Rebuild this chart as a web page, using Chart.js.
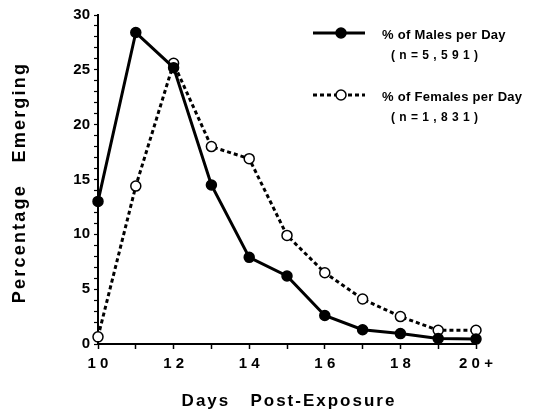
<!DOCTYPE html>
<html>
<head>
<meta charset="utf-8">
<script src="https://cdn.jsdelivr.net/npm/chart.js@4/dist/chart.umd.min.js"></script>
<style>
  html, body { margin: 0; padding: 0; background: #fff; }
  #wrap { width: 535px; height: 413px; }
</style>
</head>
<body>
<div id="wrap"><canvas id="ctx-emerge" width="535" height="413"></canvas></div>
<script>
// days post-exposure (20 = "20+")
const days = [10, 11, 12, 13, 14, 15, 16, 17, 18, 19, 20];
const malesPct = [13.0, 28.4, 25.2, 14.5, 7.9, 6.2, 2.6, 1.3, 0.95, 0.5, 0.45];
const femalesPct = [0.65, 14.4, 25.6, 18.0, 16.9, 9.9, 6.5, 4.1, 2.5, 1.25, 1.25];
const xTickLabels = { 10: '1 0', 12: '1 2', 14: '1 4', 16: '1 6', 18: '1 8', 20: '2 0 +' };
const xTitle = 'Days   Post-Exposure';
const yTitle = 'Percentage   Emerging';
const legendItems = [
    { label: '% of Males per Day', sub: '( n = 5 , 5 9 1 )', dashed: false },
    { label: '% of Females per Day', sub: '( n = 1 , 8 3 1 )', dashed: true }
];

const FONT = '"Liberation Sans", Arial, sans-serif';

// axis titles + legend drawn by hand (letter spaced like the original)
const extrasPlugin = {
    id: 'extras',
    afterDraw(chart) {
        const c = chart.ctx;
        const area = chart.chartArea;
        c.save();
        c.fillStyle = '#000';
        c.textAlign = 'center';
        c.textBaseline = 'middle';
        c.font = 'bold 17px ' + FONT;
        c.letterSpacing = '2px';
        c.fillText(xTitle, (area.left + area.right) / 2 + 2, 401);
        c.save();
        c.translate(20, (area.top + area.bottom) / 2 + 3);
        c.rotate(-Math.PI / 2);
        c.font = 'bold 18px ' + FONT;
        c.letterSpacing = '2.2px';
        c.fillText(yTitle, 0, 0);
        c.restore();

        legendItems.forEach((it, i) => {
            const y = 33 + i * 62;
            c.letterSpacing = '0px';
            c.strokeStyle = '#000';
            c.lineWidth = 3;
            c.setLineDash(it.dashed ? [4, 3] : []);
            c.beginPath();
            c.moveTo(313, y);
            c.lineTo(365, y);
            c.stroke();
            c.setLineDash([]);
            c.beginPath();
            c.arc(341, y, 5, 0, Math.PI * 2);
            c.fillStyle = it.dashed ? '#fff' : '#000';
            c.fill();
            c.lineWidth = 1.5;
            c.stroke();
            c.fillStyle = '#000';
            c.textAlign = 'left';
            c.font = 'bold 13px ' + FONT;
            c.letterSpacing = '0.3px';
            c.fillText(it.label, 382, y + 2);
            c.font = 'bold 12px ' + FONT;
            c.letterSpacing = '0.5px';
            c.fillText(it.sub, 391, y + 23);
        });
        c.restore();
    }
};

const chart = new Chart(document.getElementById('ctx-emerge'), {
    type: 'line',
    data: {
        datasets: [
            {
                label: '% of Males per Day',
                data: days.map((d, i) => ({ x: d, y: malesPct[i] })),
                borderColor: '#000',
                borderWidth: 3,
                pointRadius: 5,
                pointBackgroundColor: '#000',
                pointBorderColor: '#000',
                pointBorderWidth: 1.5,
                clip: false
            },
            {
                label: '% of Females per Day',
                data: days.map((d, i) => ({ x: d, y: femalesPct[i] })),
                borderColor: '#000',
                borderWidth: 3,
                borderDash: [4, 3],
                pointRadius: 5,
                pointBackgroundColor: '#fff',
                pointBorderColor: '#000',
                pointBorderWidth: 1.5,
                clip: false
            }
        ]
    },
    options: {
        responsive: false,
        animation: false,
        layout: { padding: { left: 0, right: 59, top: 15, bottom: 0 } },
        plugins: { legend: { display: false }, tooltip: { enabled: false } },
        scales: {
            x: {
                type: 'linear',
                min: 10,
                max: 20,
                afterFit: (s) => { s.height = 69; },
                border: { color: '#000', width: 2 },
                grid: { drawOnChartArea: false, color: '#000', tickLength: 5, tickWidth: 1.5 },
                ticks: {
                    stepSize: 1,
                    color: '#000',
                    padding: 6,
                    maxRotation: 0,
                    autoSkip: false,
                    font: { family: FONT, size: 15, weight: 'bold' },
                    callback: (v) => xTickLabels[v] || ''
                }
            },
            y: {
                min: 0,
                max: 30,
                afterFit: (s) => { s.width = 98; },
                border: { color: '#000', width: 2 },
                grid: { drawOnChartArea: false, color: '#000', tickLength: 4, tickWidth: 1.2 },
                ticks: {
                    stepSize: 1,
                    color: '#000',
                    padding: 4,
                    autoSkip: false,
                    font: { family: FONT, size: 15, weight: 'bold' },
                    callback: (v) => (v % 5 === 0 ? String(v) : '')
                }
            }
        }
    },
    plugins: [extrasPlugin]
});
</script>
</body>
</html>
